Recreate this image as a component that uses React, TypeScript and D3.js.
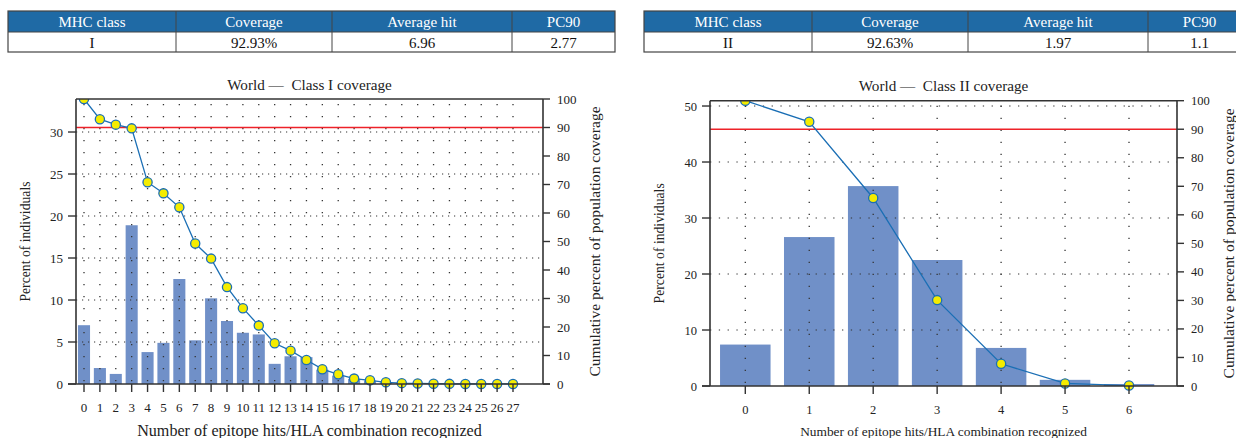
import React from "react";
import * as d3 from "d3";

// summary tables
const tableHeaders = ["MHC class", "Coverage", "Average hit", "PC90"];
const classIRow = ["I", "92.93%", "6.96", "2.77"];
const classIIRow = ["II", "92.63%", "1.97", "1.1"];

// class I: percent of individuals per number of hits, and cumulative coverage
const classIHits = [0, 1, 2, 3, 4, 5, 6, 7, 8, 9, 10, 11, 12, 13, 14, 15, 16, 17, 18, 19, 20, 21, 22, 23, 24, 25, 26, 27];
const classIIndividuals = [7.0, 1.9, 1.2, 18.9, 3.8, 4.9, 12.5, 5.2, 10.2, 7.5, 6.1, 5.9, 2.4, 3.3, 3.2, 1.7, 1.0, 0.6, 0.4, 0.2, 0.1, 0.05, 0.03, 0, 0, 0, 0, 0];
const classICumulative = [100, 92.9, 91.0, 89.7, 70.8, 66.9, 62.0, 49.3, 44.0, 34.0, 26.6, 20.5, 14.3, 11.7, 8.4, 5.2, 3.4, 1.9, 1.3, 0.6, 0.3, 0.2, 0.1, 0.05, 0.03, 0.02, 0.01, 0.01];
const classILeftTicks = [0, 5, 10, 15, 20, 25, 30];

// class II
const classIIHits = [0, 1, 2, 3, 4, 5, 6];
const classIIIndividuals = [7.4, 26.6, 35.7, 22.5, 6.8, 1.1, 0.35];
const classIICumulative = [100, 92.6, 65.9, 30.1, 7.8, 0.9, 0.15];
const classIILeftTicks = [0, 10, 20, 30, 40, 50];

const rightTicks = [0, 10, 20, 30, 40, 50, 60, 70, 80, 90, 100];
const threshold = 90;

const FONT = '"Liberation Serif", "DejaVu Serif", serif';
const AXIS = "#333";
const BAR = "#7090c8";
const LINE = "#1b6fb5";
const DOT = "#f4ec00";
const RED = "#ee2229";
const HEAD = "#1f6aa5";

const Table = ({ x, row }: { x: number; row: string[] }) => {
  const widths = [168, 156, 180, 103];
  const edges = [0, ...d3.cumsum(widths)];
  const top = 11, mid = 32, bottom = 52;
  return (
    <g transform={`translate(${x},0)`} fontFamily={FONT} fontSize={15}>
      <rect x={0} y={top} width={edges[4]} height={mid - top} fill={HEAD} />
      <rect x={0} y={mid} width={edges[4]} height={bottom - mid} fill="#fff" />
      {tableHeaders.map((h, i) => (
        <text key={h} x={(edges[i] + edges[i + 1]) / 2} y={27} textAnchor="middle" fill="#fff">{h}</text>
      ))}
      {row.map((v, i) => (
        <text key={i} x={(edges[i] + edges[i + 1]) / 2} y={47.5} textAnchor="middle" fill="#111">{v}</text>
      ))}
      <rect x={0} y={top} width={edges[4]} height={bottom - top} fill="none" stroke="#444" strokeWidth={1.2} />
      <line x1={0} x2={edges[4]} y1={mid} y2={mid} stroke="#444" strokeWidth={1} />
      {edges.slice(1, 4).map((e) => (
        <line key={e} x1={e} x2={e} y1={top} y2={bottom} stroke="#444" strokeWidth={1} />
      ))}
    </g>
  );
};

type ChartProps = {
  id: string;
  title: string;
  hits: number[];
  individuals: number[];
  cumulative: number[];
  leftTicks: number[];
  leftMax: number;
  left: number;
  right: number;
  top: number;
  bottom: number;
  x0: number;
  x1: number;
  barFrac: number;
  tickSize: number;
  xLabelSize: number;
  titleY: number;
  hDash: string;
};

const CoverageChart = (p: ChartProps) => {
  const x = d3.scaleLinear().domain([p.hits[0], p.hits[p.hits.length - 1]]).range([p.x0, p.x1]);
  const step = x(1) - x(0);
  const bw = step * p.barFrac;
  const yL = d3.scaleLinear().domain([0, p.leftMax]).range([p.bottom, p.top]);
  const yR = d3.scaleLinear().domain([0, 100]).range([p.bottom, p.top]);
  const line = d3.line<number>().x((_, i) => x(p.hits[i])).y((d) => yR(d));
  const cx = (p.left + p.right) / 2;
  const cy = (p.top + p.bottom) / 2;
  return (
    <g fontFamily={FONT} fill="#222">
      <defs>
        <clipPath id={p.id}>
          <rect x={p.left} y={p.top} width={p.right - p.left} height={p.bottom - p.top + 10} />
        </clipPath>
      </defs>
      <text x={cx} y={p.titleY} textAnchor="middle" fontSize={15.2} style={{ whiteSpace: "pre" }}>{"World —  " + p.title}</text>

      {/* bars */}
      {p.individuals.map((v, i) => (
        <rect key={i} x={x(p.hits[i]) - bw / 2} y={yL(v)} width={bw} height={p.bottom - yL(v)} fill={BAR} />
      ))}

      {/* dotted grid */}
      {p.hits.map((h) => (
        <line key={"v" + h} x1={x(h)} x2={x(h)} y1={p.top + 5} y2={p.bottom} stroke="#333" strokeWidth={1.3} strokeDasharray="1.3,10.7" />
      ))}
      {p.leftTicks.slice(1).map((t) => (
        <line key={"h" + t} x1={p.left} x2={p.right} y1={yL(t)} y2={yL(t)} stroke="#333" strokeWidth={1.2} strokeDasharray={p.hDash} />
      ))}

      {/* 90% threshold */}
      <line x1={p.left} x2={p.right} y1={yR(threshold)} y2={yR(threshold)} stroke={RED} strokeWidth={1.5} />

      {/* cumulative line */}
      <g clipPath={`url(#${p.id})`}>
        <path d={line(p.cumulative) ?? ""} fill="none" stroke={LINE} strokeWidth={1.3} />
        {p.cumulative.map((v, i) => (
          <circle key={i} cx={x(p.hits[i])} cy={yR(v)} r={4.6} fill={DOT} stroke={LINE} strokeWidth={1.3} />
        ))}
      </g>

      {/* frame and axes */}
      <line x1={p.left} x2={p.right} y1={p.top} y2={p.top} stroke={AXIS} strokeWidth={1.4} />
      <line x1={p.left} x2={p.left} y1={p.top} y2={p.bottom} stroke={AXIS} strokeWidth={1.6} />
      <line x1={p.right} x2={p.right} y1={p.top} y2={p.bottom} stroke={AXIS} strokeWidth={1.6} />
      <line x1={p.left - 8} x2={p.right + 7} y1={p.bottom} y2={p.bottom} stroke={AXIS} strokeWidth={1.6} />

      {p.leftTicks.map((t) => (
        <g key={"l" + t}>
          <line x1={p.left - 8} x2={p.left} y1={yL(t)} y2={yL(t)} stroke={AXIS} strokeWidth={1.4} />
          <text x={p.left - 13} y={yL(t) + 4.5} textAnchor="end" fontSize={p.tickSize}>{t}</text>
        </g>
      ))}
      {rightTicks.map((t) => (
        <g key={"r" + t}>
          <line x1={p.right} x2={p.right + 7} y1={yR(t)} y2={yR(t)} stroke={AXIS} strokeWidth={1.4} />
          <text x={p.right + 14} y={yR(t) + 4.5} fontSize={p.tickSize}>{t}</text>
        </g>
      ))}
      {p.hits.map((h) => (
        <g key={"x" + h}>
          <line x1={x(h)} x2={x(h)} y1={p.bottom} y2={p.bottom + 8} stroke={AXIS} strokeWidth={1.4} />
          <text x={x(h)} y={p.bottom + 27.5} textAnchor="middle" fontSize={p.tickSize}>{h}</text>
        </g>
      ))}

      <text x={cx} y={436} textAnchor="middle" fontSize={p.xLabelSize}>Number of epitope hits/HLA combination recognized</text>
      <text transform={`translate(${p.left - 46},${cy}) rotate(-90)`} textAnchor="middle" fontSize={13.7}>Percent of individuals</text>
      <text transform={`translate(${p.right + 57},${cy}) rotate(-90)`} textAnchor="middle" fontSize={15.6}>Cumulative percent of population coverage</text>
    </g>
  );
};

export default function App() {
  return (
    <svg width={1236} height={438} style={{ position: "absolute", left: 0, top: 0, background: "#fff" }}>
      <rect width={1236} height={438} fill="#fff" />
      <Table x={8} row={classIRow} />
      <Table x={644} row={classIIRow} />
      <CoverageChart
        id="clipI"
        title="Class I coverage"
        hits={classIHits}
        individuals={classIIndividuals}
        cumulative={classICumulative}
        leftTicks={classILeftTicks}
        leftMax={33.93}
        left={76}
        right={543}
        top={99}
        bottom={384}
        x0={84}
        x1={513}
        barFrac={0.76}
        tickSize={13}
        xLabelSize={16.1}
        titleY={90}
        hDash="1.2,4.8"
      />
      <CoverageChart
        id="clipII"
        title="Class II coverage"
        hits={classIIHits}
        individuals={classIIIndividuals}
        cumulative={classIICumulative}
        leftTicks={classIILeftTicks}
        leftMax={50.95}
        left={710}
        right={1177}
        top={100.7}
        bottom={386}
        x0={745.3}
        x1={1129}
        barFrac={0.79}
        tickSize={12.5}
        xLabelSize={13.4}
        titleY={91}
        hDash="1.3,7.5"
      />
    </svg>
  );
}
